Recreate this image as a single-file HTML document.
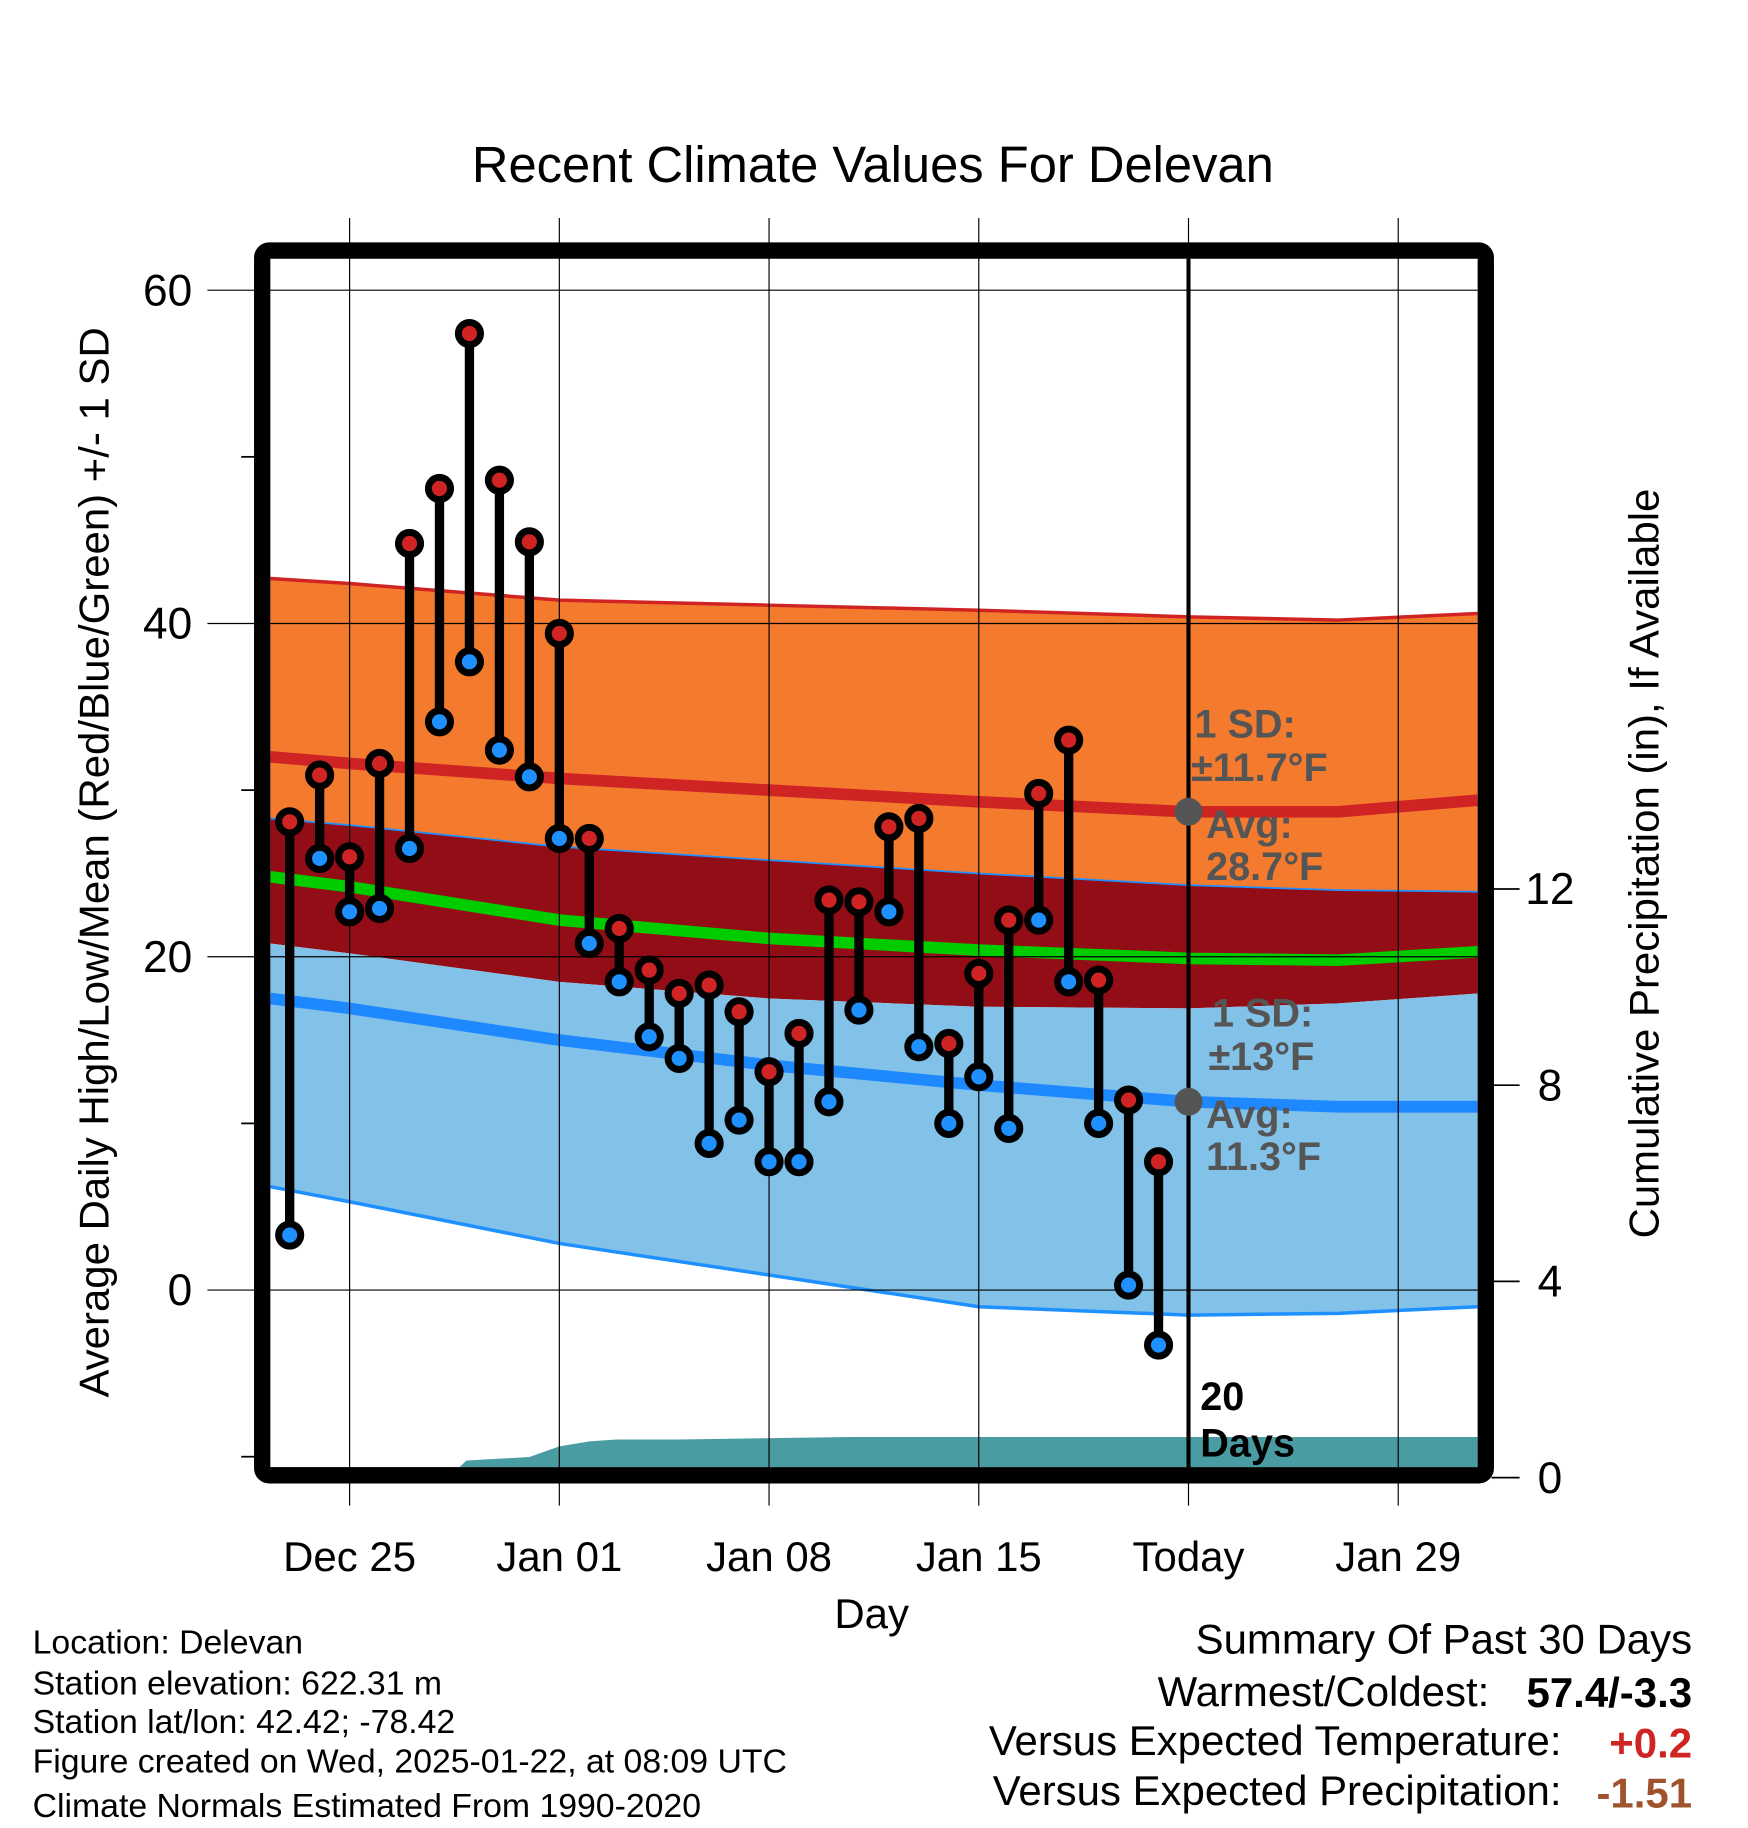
<!DOCTYPE html>
<html><head><meta charset="utf-8"><style>
html,body{margin:0;padding:0;background:#fff}
svg{display:block;font-family:"Liberation Sans",Arial,sans-serif}
</style></head><body>
<svg id="chart" width="1748" height="1828" viewBox="0 0 1500 1568.6" xmlns="http://www.w3.org/2000/svg">
<g id="bands"></g>
<g id="grid"></g>
<g id="marks"></g>
<g id="frame"></g>
<g id="texts"></g>
</svg>
<script>
// day offsets from Dec 25
const obsDays = [-2,-1,0,1,2,3,4,5,6,7,8,9,10,11,12,13,14,15,16,17,18,19,20,21,22,23,24,25,26,27];
const highs = [28.1,30.9,26.0,31.6,44.8,48.1,57.4,48.6,44.9,39.4,27.1,21.7,19.2,17.8,18.3,16.7,13.1,15.4,23.4,23.3,27.8,28.3,14.8,19.0,22.2,29.8,33.0,18.6,11.4,7.7];
const lows = [3.3,25.9,22.7,22.9,26.5,34.1,37.7,32.4,30.8,27.1,20.8,18.5,15.2,13.9,8.8,10.2,7.7,7.7,11.3,16.8,22.7,14.6,10.0,12.8,9.7,22.2,18.5,10.0,0.3,-3.3];
const normDays = [-2.65,0,7,14,21,28,33,37.65];
const hiPlusSD = [42.7,42.4,41.4,41.1,40.8,40.4,40.2,40.6];
const hiMean = [32.0,31.6,30.7,30.0,29.3,28.7,28.7,29.4];
const hiMinusSD = [28.3,27.9,26.6,25.8,25.0,24.3,24.0,23.9];
const avgMean = [24.8,24.2,22.2,21.1,20.4,19.9,19.8,20.3];
const loPlusSD = [20.8,20.2,18.5,17.5,17.0,16.9,17.2,17.8];
const loMean = [17.5,16.9,15.0,13.5,12.3,11.3,11.0,11.0];
const loMinusSD = [6.2,5.3,2.8,0.9,-1.0,-1.5,-1.4,-1.0];
const precipDays = [-2.65,3.3,3.9,6,7,8,8.9,10,11,16.7,20,27,37.65];
const precipCum = [0,0,0.35,0.42,0.64,0.74,0.78,0.78,0.78,0.83,0.83,0.83,0.83];
const todayDay = 28;
const todayNormals = [28.7,11.3];
const tempTicks = [60,40,20,0];
const minorTicks = [50,30,10,-10];
const precipTicks = [0,4,8,12];
const xTickDays = [0,7,14,21,28,35];
const xTickLabels = ["Dec 25","Jan 01","Jan 08","Jan 15","Today","Jan 29"];

const NS="http://www.w3.org/2000/svg";
const X0=232,X1=1268,Y0=222,Y1=1259;
const xs=d=>300+d*25.71;
const ys=t=>1107-t*14.3;
const yp=p=>1268-p*42.1;
function el(tag,attrs,parent,text){const e=document.createElementNS(NS,tag);for(const k in attrs)e.setAttribute(k,attrs[k]);if(text!==undefined)e.textContent=text;document.getElementById(parent).appendChild(e);return e;}
function linePts(days,vals,f){return days.map((d,i)=>xs(d).toFixed(1)+","+f(vals[i]).toFixed(1));}
function band(upper,lower,fill,name){
  const p=linePts(normDays,upper,ys).concat(linePts(normDays,lower,ys).reverse());
  const e=el('polygon',{points:p.join(' '),fill:fill},'bands');
  
  
}
function curve(vals,color,w,name){
  const e=el('polyline',{points:linePts(normDays,vals,ys).join(' '),fill:'none',stroke:color,'stroke-width':w},'bands');
  
  
}
band(hiPlusSD,hiMinusSD,'#f47b2e','high-sd-band');
band(hiMinusSD,loPlusSD,'#920d15','overlap-band');
band(loPlusSD,loMinusSD,'#82c1e8','low-sd-band');
curve(hiPlusSD,'#d02424',3,'high-plus-sd-line');
curve(hiMinusSD,'#1e90ff',1.5,'high-minus-sd-line');
curve(loMinusSD,'#1e90ff',3,'low-minus-sd-line');
curve(hiMean,'#d02424',10,'normal-high-line');
curve(avgMean,'#00cc00',10,'normal-mean-line');
curve(loMean,'#1e88ff',10,'normal-low-line');
{const p=linePts(precipDays,precipCum,yp);p.push(xs(precipDays[precipDays.length-1]).toFixed(1)+","+Y1,xs(precipDays[0]).toFixed(1)+","+Y1);
 const e=el('polygon',{points:p.join(' '),fill:'#4a9ca3'},'bands');
 
 }
xTickDays.forEach((d,i)=>{
  const g=el('line',{x1:xs(d),x2:xs(d),y1:187,y2:1292,stroke:'#000','stroke-width':1},'grid');
  
  
  const t=el('text',{x:xs(d),y:1348,'text-anchor':'middle','font-size':36},'texts',xTickLabels[i]);
  
  
});
tempTicks.forEach(v=>{
  const g=el('line',{x1:178,x2:X1,y1:ys(v),y2:ys(v),stroke:'#000','stroke-width':1},'grid');
  
  
  const t=el('text',{x:165,y:ys(v)+13,'text-anchor':'end','font-size':38},'texts',String(v));
  
  
});
minorTicks.forEach(v=>{
  const g=el('line',{x1:207,x2:220,y1:ys(v),y2:ys(v),stroke:'#000','stroke-width':1.5},'grid');
  
  
});
precipTicks.forEach(v=>{
  const g=el('line',{x1:1280,x2:1304,y1:yp(v),y2:yp(v),stroke:'#000','stroke-width':1.5},'grid');
  
  
  const t=el('text',{x:1330,y:yp(v)+13,'text-anchor':'middle','font-size':38},'texts',String(v));
  
  
});
{const e=el('line',{x1:xs(todayDay),x2:xs(todayDay),y1:Y0,y2:Y1,stroke:'#000','stroke-width':3.5},'marks');
 
 }
todayNormals.forEach(v=>{
  const c=el('circle',{cx:xs(todayDay),cy:ys(v),r:12,fill:'#555'},'marks');
  
  
});
obsDays.forEach((d,i)=>{
  const x=xs(d);
  const s=el('line',{x1:x,x2:x,y1:ys(highs[i]),y2:ys(lows[i]),stroke:'#000','stroke-width':8},'marks');
  
  
  const h=el('circle',{cx:x,cy:ys(highs[i]),r:9.5,fill:'#d02424',stroke:'#000','stroke-width':6},'marks');
  
  
  const l=el('circle',{cx:x,cy:ys(lows[i]),r:9.5,fill:'#1e90ff',stroke:'#000','stroke-width':6},'marks');
  
  
});
{const f=el('rect',{x:225,y:215,width:1050,height:1051,rx:6,fill:'none',stroke:'#000','stroke-width':14},'frame');
 
 }
</script>
<svg style="position:absolute;left:0;top:0" width="1748" height="1828" viewBox="0 0 1500 1568.6" xmlns="http://www.w3.org/2000/svg" font-family="Liberation Sans, Arial, sans-serif">
<text x="749" y="156" text-anchor="middle" font-size="43.5">Recent Climate Values For Delevan</text>
<text x="748" y="1397" text-anchor="middle" font-size="36">Day</text>
<text transform="translate(93,740) rotate(-90)" text-anchor="middle" font-size="36">Average Daily High/Low/Mean (Red/Blue/Green) +/- 1 SD</text>
<text transform="translate(1423,741) rotate(-90)" text-anchor="middle" font-size="36">Cumulative Precipitation (in), If Available</text>
<g font-weight="bold" fill="#555" font-size="34">
<text x="1025" y="633">1 SD:</text>
<text x="1022" y="670">±11.7°F</text>
<text x="1035" y="719">Avg:</text>
<text x="1035" y="755">28.7°F</text>
<text x="1040" y="881">1 SD:</text>
<text x="1037" y="918">±13°F</text>
<text x="1035" y="968">Avg:</text>
<text x="1035" y="1004">11.3°F</text>
</g>
<text x="1030" y="1210" font-weight="bold" font-size="34">20</text>
<text x="1030" y="1250" font-weight="bold" font-size="34">Days</text>
<g font-size="29">
<text x="28" y="1419">Location: Delevan</text>
<text x="28" y="1454">Station elevation: 622.31 m</text>
<text x="28" y="1487">Station lat/lon: 42.42; -78.42</text>
<text x="28" y="1521">Figure created on Wed, 2025-01-22, at 08:09 UTC</text>
<text x="28" y="1559">Climate Normals Estimated From 1990-2020</text>
</g>
<g font-size="36" text-anchor="end">
<text x="1452" y="1419">Summary Of Past 30 Days</text>
<text x="1278" y="1464">Warmest/Coldest:</text>
<text x="1452" y="1465" font-weight="bold">57.4/-3.3</text>
<text x="1340" y="1506">Versus Expected Temperature:</text>
<text x="1452" y="1508" font-weight="bold" fill="#d02424">+0.2</text>
<text x="1340" y="1549">Versus Expected Precipitation:</text>
<text x="1452" y="1551" font-weight="bold" fill="#a0522d">-1.51</text>
</g>
</svg>
</body></html>
